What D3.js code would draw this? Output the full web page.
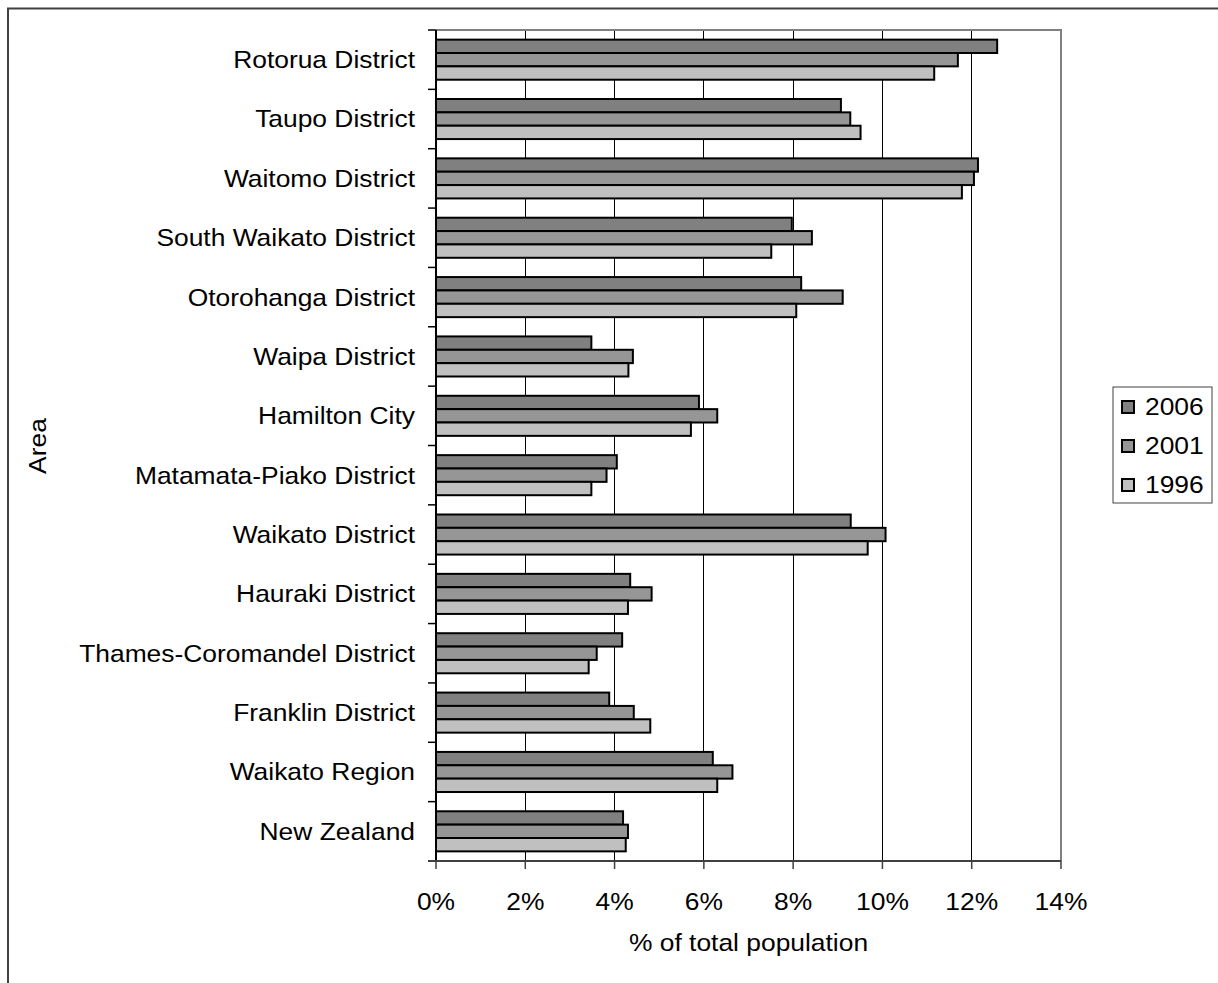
<!DOCTYPE html>
<html>
<head>
<meta charset="utf-8">
<script src="https://cdn.jsdelivr.net/npm/d3@7"></script>
<style>
  html, body { margin: 0; padding: 0; background: #fff; }
  svg { display: block; }
  text { font-family: "Liberation Sans", Arial, sans-serif; fill: #000; }
</style>
</head>
<body>
<svg id="chart" width="1218" height="983"></svg>
<script>
const categories = ["Rotorua District","Taupo District","Waitomo District","South Waikato District","Otorohanga District","Waipa District","Hamilton City","Matamata-Piako District","Waikato District","Hauraki District","Thames-Coromandel District","Franklin District","Waikato Region","New Zealand"];
const years = ["2006","2001","1996"];
const values2006 = [12.57, 9.07, 12.14, 7.97, 8.18, 3.48, 5.89, 4.05, 9.29, 4.35, 4.17, 3.88, 6.20, 4.19];
const values2001 = [11.69, 9.28, 12.05, 8.42, 9.11, 4.41, 6.30, 3.82, 10.07, 4.83, 3.60, 4.43, 6.64, 4.30];
const values1996 = [11.16, 9.51, 11.78, 7.51, 8.07, 4.31, 5.71, 3.48, 9.67, 4.30, 3.42, 4.80, 6.30, 4.25];
const xTicks = [0, 2, 4, 6, 8, 10, 12, 14];
const colors = ["#808080", "#969696", "#c0c0c0"];
const seriesValues = [values2006, values2001, values1996];

const svg = d3.select("#chart");
const L = 436, R = 1061, T = 30, B = 861;
const FS = 24, SX = 1.1;

function addText(g, x, y, str, anchor, rot) {
  return g.append("text")
    .attr("transform", `translate(${x},${y})` + (rot ? ` rotate(${rot})` : "") + ` scale(${SX},1)`)
    .attr("dy", "0.35em").attr("text-anchor", anchor).attr("font-size", FS).text(str);
}

// outer chart border
svg.append("rect").attr("x", 8).attr("y", 8.5).attr("width", 1230).attr("height", 1000)
  .attr("fill", "none").attr("stroke", "#404040").attr("stroke-width", 2);

const x = d3.scaleLinear().domain([0, 14]).range([L, R]);
const y = d3.scaleBand().domain(categories).range([T, B]).paddingInner(0.325).paddingOuter(0.1625);
const yInner = d3.scaleBand().domain(years).range([0, y.bandwidth()]);

// gridlines
svg.append("g").selectAll("line").data(xTicks.slice(1, -1)).join("line")
  .attr("x1", d => x(d)).attr("x2", d => x(d)).attr("y1", T).attr("y2", B)
  .attr("stroke", "#000").attr("stroke-width", 1).attr("shape-rendering", "crispEdges");

// plot area border top/right (gray)
svg.append("path").attr("d", `M${L},${T}H${R}V${B}`).attr("fill", "none")
  .attr("stroke", "#808080").attr("stroke-width", 2);

// bars
const groups = svg.append("g").selectAll("g").data(categories).join("g")
  .attr("transform", d => `translate(0,${y(d)})`);
groups.selectAll("rect").data((c, i) => years.map((yr, k) => ({yr, v: seriesValues[k][i], k})))
  .join("rect")
  .attr("x", x(0)).attr("y", d => yInner(d.yr))
  .attr("width", d => x(d.v) - x(0)).attr("height", yInner.bandwidth())
  .attr("fill", d => colors[d.k]).attr("stroke", "#000").attr("stroke-width", 2);

// y axis with ticks at category boundaries
const yAxisG = svg.append("g");
yAxisG.append("line").attr("x1", L).attr("x2", L).attr("y1", T).attr("y2", B)
  .attr("stroke", "#000").attr("stroke-width", 2);
const boundaries = d3.range(categories.length + 1).map(i => T + i * (B - T) / categories.length);
yAxisG.selectAll("line.tick").data(boundaries).join("line").attr("class", "tick")
  .attr("x1", L - 8).attr("x2", L).attr("y1", d => d).attr("y2", d => d)
  .attr("stroke", "#000").attr("stroke-width", 1.5);
categories.forEach(c => addText(yAxisG, L - 21, y(c) + y.bandwidth() / 2, c, "end"));

// x axis
const xAxisG = svg.append("g");
xAxisG.append("line").attr("x1", L - 8).attr("x2", R).attr("y1", B).attr("y2", B)
  .attr("stroke", "#404040").attr("stroke-width", 2);
xAxisG.selectAll("line.tick").data(xTicks).join("line").attr("class", "tick")
  .attr("x1", d => x(d)).attr("x2", d => x(d)).attr("y1", B).attr("y2", B + 8)
  .attr("stroke", "#404040").attr("stroke-width", 1.5);
xTicks.forEach(t => addText(xAxisG, x(t), 902, t + "%", "middle"));

// axis titles
addText(svg, (L + R) / 2, 943, "% of total population", "middle");
addText(svg, 38, 446, "Area", "middle", -90);

// legend
const lg = svg.append("g");
lg.append("rect").attr("x", 1113).attr("y", 387).attr("width", 99).attr("height", 116)
  .attr("fill", "#fff").attr("stroke", "#404040").attr("stroke-width", 1);
const rowY = d3.scalePoint().domain(years).range([407, 485]);
lg.selectAll("rect.sw").data(years).join("rect").attr("class", "sw")
  .attr("x", 1122).attr("y", d => rowY(d) - 6).attr("width", 12).attr("height", 12)
  .attr("fill", (d, i) => colors[i]).attr("stroke", "#000").attr("stroke-width", 2);
years.forEach(yr => addText(lg, 1145, rowY(yr), yr, "start"));
</script>
</body>
</html>
